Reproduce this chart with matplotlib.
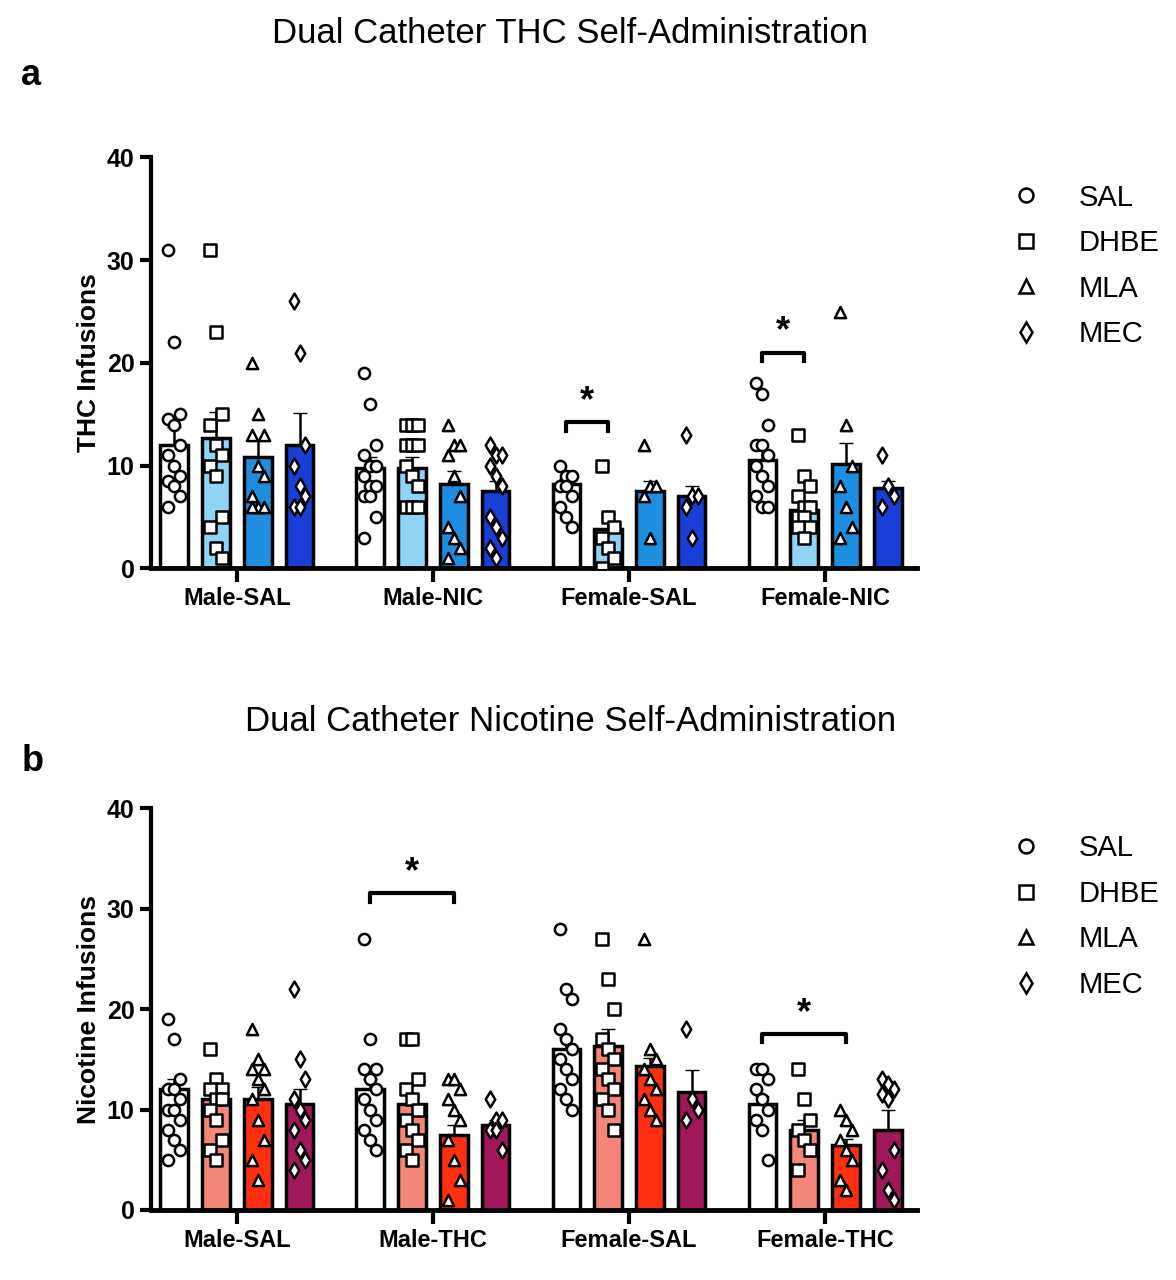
import matplotlib
matplotlib.use("Agg")
import matplotlib.pyplot as plt
import numpy as np
from matplotlib.lines import Line2D

plt.rcParams['font.family'] = ['Liberation Sans', 'DejaVu Sans']

treatments = ["SAL", "DHBE", "MLA", "MEC"]
markers = ["o", "s", "^", "d"]

groups_a = ["Male-SAL", "Male-NIC", "Female-SAL", "Female-NIC"]
means_a = [[12, 12.7, 10.8, 12], [9.8, 9.8, 8.2, 7.5], [8.2, 3.8, 7.5, 7], [10.5, 5.7, 10.2, 7.8]]
sems_a = [[1.8, 2.5, 1.7, 3.1], [1.0, 1.0, 1.3, 1.0], [0.5, 1.5, 1.0, 1.0], [1.0, 0.8, 2.0, 0.7]]
points_a = [
    [[31, 22, 15, 14.5, 14, 12, 11, 10, 9, 8.5, 8, 7, 6],
     [31, 23, 15, 14, 12, 11, 10, 9, 5, 4, 2, 1],
     [20, 15, 13, 13, 10, 9, 7, 6, 6, 6],
     [26, 21, 12, 10, 8, 7, 6, 6]],
    [[19, 16, 12, 11, 10, 10, 9, 8, 8, 7, 7, 5, 3],
     [14, 14, 14, 12, 12, 12, 10, 9, 8, 6, 6, 6],
     [14, 12, 12, 11, 9, 7, 4, 3, 2, 1],
     [12, 11, 11, 10, 9, 8, 5, 4, 3, 2, 1]],
    [[10, 9, 9, 8, 8, 7, 6, 5, 4],
     [10, 5, 4, 3, 2, 1, 0],
     [12, 8, 8, 7, 3],
     [13, 7, 7, 6, 3]],
    [[18, 17, 14, 12, 12, 11, 10, 9, 8, 7, 6, 6],
     [13, 9, 8, 7, 6, 6, 5, 5, 4, 4, 3],
     [25, 14, 10, 8, 6, 4, 3],
     [11, 8, 7, 6]],
]

groups_b = ["Male-SAL", "Male-THC", "Female-SAL", "Female-THC"]
means_b = [[12, 11, 11, 10.5], [12, 10.5, 7.5, 8.5], [16, 16.3, 14.3, 11.7], [10.5, 8, 6.5, 8]]
sems_b = [[1.0, 1.0, 1.2, 1.5], [1.0, 0.8, 1.0, 0.5], [1.2, 1.7, 0.8, 2.2], [0.8, 1.0, 0.6, 2.0]]
points_b = [
    [[19, 17, 13, 12, 12, 11, 10, 10, 9, 8, 7, 6, 5],
     [16, 13, 12, 12, 11, 11, 10, 9, 7, 6, 5],
     [18, 15, 14, 14, 13, 12, 11, 9, 7, 5, 3],
     [22, 15, 13, 11, 10, 9, 8, 6, 5, 4]],
    [[27, 17, 14, 14, 13, 12, 11, 10, 9, 8, 7, 6],
     [17, 17, 13, 12, 11, 10, 9, 8, 7, 6, 5],
     [13, 13, 12, 11, 10, 9, 7, 5, 3, 1],
     [11, 9, 9, 8, 8, 6]],
    [[28, 22, 21, 18, 17, 16, 15, 14, 13, 12, 11, 10],
     [27, 23, 20, 17, 16, 15, 14, 13, 12, 11, 10, 8],
     [27, 16, 15, 14, 13, 12, 11, 10, 9],
     [18, 11, 10, 9]],
    [[14, 14, 13, 12, 11, 10, 9, 8, 5],
     [14, 11, 9, 8, 7, 6, 4],
     [10, 9, 8, 7, 6, 5, 3, 2],
     [13, 12.5, 12, 11.5, 11, 6, 4, 2, 1]],
]

colors_a = ["white", "#8fd3f5", "#1e8fe0", "#1a3fd6"]
colors_b = ["white", "#f4877a", "#ff3010", "#a0185a"]

sig_a = [(2, 0, 1, 14.2), (3, 0, 1, 21.0)]
sig_b = [(1, 0, 2, 31.5), (3, 0, 2, 17.5)]

fig = plt.figure(figsize=(11.76, 12.8), dpi=100)
offsets = np.array([-0.32, -0.107, 0.107, 0.32])
bw = 0.14


def panel(rect, title, letter, ylabel, groups, means, sems, points, colors, sigs, title_y, letter_y):
    ax = fig.add_axes(rect)
    for g in range(4):
        for t in range(4):
            x = g + offsets[t]
            ax.bar(x, means[g][t], width=bw, color=colors[t], edgecolor="black", linewidth=2.5, zorder=2)
            ax.errorbar(x, means[g][t], yerr=[[0], [sems[g][t]]], color="black", capsize=5, lw=1.8, zorder=3)
            vals = points[g][t]
            n = len(vals)
            jit = np.array([((i % 3) - 1) * 0.03 for i in range(n)])
            ax.scatter(x + jit, vals, marker=markers[t], s=65, facecolor="white",
                       edgecolor="black", linewidth=1.8, zorder=4)
    for g, i, j, y in sigs:
        x1, x2 = g + offsets[i], g + offsets[j]
        ax.plot([x1, x1, x2, x2], [y - 0.8, y, y, y - 0.8], color="black", lw=3, zorder=5)
        ax.text((x1 + x2) / 2, y + 0.3, "*", ha="center", va="bottom", fontsize=26, fontweight="bold")
    ax.set_xlim(-0.44, 3.47)
    ax.set_ylim(0, 40)
    ax.set_yticks([0, 10, 20, 30, 40])
    ax.set_xticks(range(4))
    ax.set_xticklabels(groups, fontsize=17, fontweight="bold")
    for lab in ax.get_yticklabels():
        lab.set_fontweight("bold")
        lab.set_fontsize(18)
    ax.tick_params(axis="y", width=3, length=8)
    ax.tick_params(axis="x", width=3, length=10)
    ax.spines["top"].set_visible(False)
    ax.spines["right"].set_visible(False)
    ax.spines["left"].set_linewidth(3)
    ax.spines["bottom"].set_linewidth(3.5)
    ax.set_ylabel(ylabel, fontsize=19, fontweight="bold")
    fig.text(0.485, title_y, title, ha="center", va="center", fontsize=25)
    fig.text(0.018, letter_y, letter, ha="left", va="center", fontsize=26, fontweight="bold")
    handles = [Line2D([], [], marker=m, linestyle="none", markerfacecolor="white", markeredgecolor="black",
                      markersize=10, markeredgewidth=1.8) for m in markers]
    ax.legend(handles, treatments, loc="upper left", bbox_to_anchor=(1.07, 1.0), frameon=False,
              fontsize=21, handletextpad=0.8, labelspacing=0.6)
    return ax


panel([0.128, 0.556, 0.652, 0.321], "Dual Catheter THC Self-Administration", "a", "THC Infusions",
      groups_a, means_a, sems_a, points_a, colors_a, sig_a, 0.974, 0.941)
panel([0.128, 0.0547, 0.652, 0.314], "Dual Catheter Nicotine Self-Administration", "b", "Nicotine Infusions",
      groups_b, means_b, sems_b, points_b, colors_b, sig_b, 0.436, 0.405)

fig.savefig("out.png", dpi=100)
